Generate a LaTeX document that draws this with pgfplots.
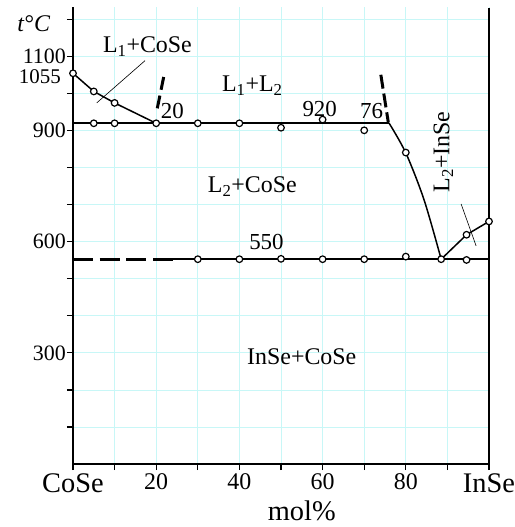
\documentclass[border=0pt]{standalone}
\usepackage{fontspec}
\setmainfont{Liberation Serif}
\usepackage{pgfplots}
\pgfplotsset{compat=1.18}
\definecolor{gridcyan}{HTML}{C8F7F7}
\newcommand{\fs}[1]{\fontsize{#1}{#1}\selectfont}

\begin{document}
\begin{tikzpicture}
\useasboundingbox (-73bp,-63bp) rectangle (442bp,464bp);
\begin{axis}[
    at={(0,0)}, anchor=south west,
    scale only axis, width=416bp, height=457bp,
    xmin=0, xmax=100, ymin=0, ymax=1234,
    axis x line*=bottom, axis y line*=left,
    axis line style={line width=2bp, -},
    xtick={0,20,40,60,80,100},
    xticklabels={{\fs{28.5}CoSe},20,40,60,80,{\fs{28.5}InSe}},
    minor xtick={10,30,50,70,90},
    ytick={300,600,900,1100},
    yticklabels={300,600,900,1100},
    minor ytick={100,200,400,500,700,800,1000,1200},
    tick align=outside,
    major tick length=6bp, minor tick length=6bp,
    tick style={line width=1.2bp, black},
    xticklabel style={font=\fs{24}},
    yticklabel style={font=\fs{22}, inner sep=1bp},
    grid=both,
    major grid style={gridcyan, line width=0.8bp},
    minor grid style={gridcyan, line width=0.8bp},
    clip=false,
]
% right border
\draw[line width=2bp] (rel axis cs:1,0) -- (rel axis cs:1,0.998);

% liquidus CoSe side
\addplot[line width=1.5bp] coordinates {(0,1055) (5,1006) (10,975) (20,920)};
% monotectic 920
\addplot[line width=2bp] coordinates {(0,920) (76,920)};
% L2 liquidus
\addplot[line width=1.5bp, smooth] coordinates {(76,920) (80,840) (84.4,713) (88.5,553)};
% InSe liquidus
\addplot[line width=1.5bp] coordinates {(88.5,553) (94.6,619) (100,655)};
% eutectic 550
\addplot[line width=3bp, dash pattern=on 20bp off 6.7bp] coordinates {(0,553) (24,553)};
\addplot[line width=2bp] coordinates {(24,553) (100,553)};
% miscibility gap (dashed)
\addplot[line width=3bp, dash pattern=on 13bp off 6bp] coordinates {(21.8,1045) (20.2,957)};
\addplot[line width=3bp, dash pattern=on 14bp off 5bp] coordinates {(74,1051) (75.8,922)};
% pointers
\addplot[line width=0.6bp] coordinates {(17.3,1089) (5.7,975)};
\addplot[line width=0.6bp] coordinates {(93.3,702) (96.9,589)};

% experimental points
\addplot[only marks, mark=*, mark size=3.3bp,
    mark options={fill=white, draw=black, line width=1.2bp}] coordinates {
    (0,1055) (5,1006) (10,975) (20,920)
    (5,920) (10,920) (30,920) (40,920) (50,908) (60,930) (70,901)
    (80,841)
    (30,553) (40,553) (50,554) (60,553) (70,553) (80,560) (88.5,553) (94.6,551)
    (94.6,619) (100,655)
};

% labels
\node[anchor=base, font=\fs{24}] at (axis cs:-9.4,1167) {\textit{t}°\textit{C}};
\node[anchor=east, font=\fs{21}, inner sep=0pt] at (axis cs:0,1045) [xshift=-12bp] {1055};
\node[anchor=base, font=\fs{24}] at (axis cs:17.9,1110) {L\textsubscript{1}+CoSe};
\node[anchor=base, font=\fs{24}] at (axis cs:43.1,1005) {L\textsubscript{1}+L\textsubscript{2}};
\node[anchor=base, font=\fs{23}] at (axis cs:23.9,934) {20};
\node[anchor=base, font=\fs{23}] at (axis cs:59.3,939) {920};
\node[anchor=base, font=\fs{23}] at (axis cs:71.8,932) {76};
\node[anchor=base, font=\fs{24}] at (axis cs:43.1,732) {L\textsubscript{2}+CoSe};
\node[anchor=base, font=\fs{23}] at (axis cs:46.5,580) {550};
\node[anchor=base, font=\fs{24}] at (axis cs:55,268) {InSe+CoSe};
\node[rotate=90, font=\fs{24}] at (axis cs:89,843) {L\textsubscript{2}+InSe};
\node[anchor=base, font=\fs{28.5}, inner sep=1bp] at (axis cs:55,0) [yshift=-56bp] {mol\%};
\end{axis}
\end{tikzpicture}
\end{document}
